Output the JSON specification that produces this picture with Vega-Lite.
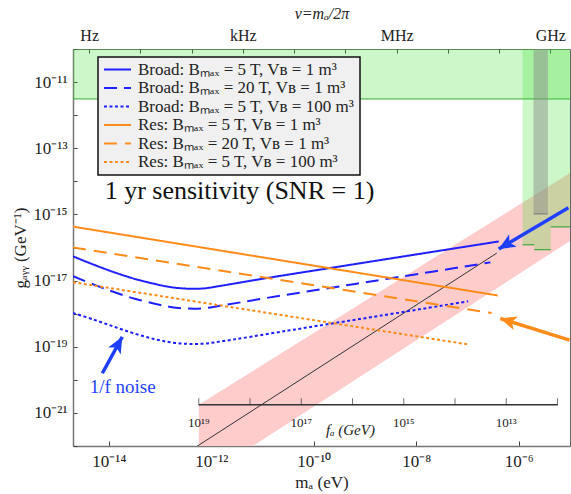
{
  "$schema": "https://vega.github.io/schema/vega-lite/v6.json",
  "width": 497,
  "height": 397,
  "autosize": {"type": "none"},
  "padding": {"left": 73, "top": 49, "right": 1, "bottom": 48},
  "background": "white",
  "config": {
    "view": {"stroke": "#666", "strokeWidth": 1},
    "font": "Liberation Serif",
    "axis": {
      "labelFont": "Liberation Serif",
      "titleFont": "Liberation Serif",
      "labelFontSize": 17,
      "titleFontSize": 17,
      "titleFontWeight": "normal",
      "labelColor": "#222",
      "titleColor": "#222",
      "tickColor": "#444",
      "domainColor": "#777",
      "domainWidth": 1.5,
      "grid": false,
      "labelFlush": false,
      "labelOverlap": false
    },
    "legend": {
      "labelFont": "Liberation Serif",
      "labelFontSize": 17,
      "labelColor": "#222",
      "labelLimit": 500,
      "fillColor": "#f0f0f0",
      "strokeColor": "#111",
      "strokeWidth": 1.5,
      "padding": 5,
      "symbolType": "stroke",
      "symbolStrokeWidth": 2,
      "symbolSize": 729,
      "clipHeight": 15,
      "rowPadding": 0.5,
      "labelOffset": 6
    }
  },
  "datasets": {
    "curves": [
      {"series": "Broad: Bₘₐₓ = 5 T, Vʙ = 1 m³", "m": 2.0e-15, "g": 5.40e-17},
      {"series": "Broad: Bₘₐₓ = 5 T, Vʙ = 1 m³", "m": 5.14e-15, "g": 3.00e-17},
      {"series": "Broad: Bₘₐₓ = 5 T, Vʙ = 1 m³", "m": 1.256e-14, "g": 1.80e-17},
      {"series": "Broad: Bₘₐₓ = 5 T, Vʙ = 1 m³", "m": 3.07e-14, "g": 1.148e-17},
      {"series": "Broad: Bₘₐₓ = 5 T, Vʙ = 1 m³", "m": 7.52e-14, "g": 8.07e-18},
      {"series": "Broad: Bₘₐₓ = 5 T, Vʙ = 1 m³", "m": 1.585e-13, "g": 6.38e-18},
      {"series": "Broad: Bₘₐₓ = 5 T, Vʙ = 1 m³", "m": 3.34e-13, "g": 5.71e-18},
      {"series": "Broad: Bₘₐₓ = 5 T, Vʙ = 1 m³", "m": 7.03e-13, "g": 5.79e-18},
      {"series": "Broad: Bₘₐₓ = 5 T, Vʙ = 1 m³", "m": 1.483e-12, "g": 6.89e-18},
      {"series": "Broad: Bₘₐₓ = 5 T, Vʙ = 1 m³", "m": 1.197e-11, "g": 1.189e-17},
      {"series": "Broad: Bₘₐₓ = 5 T, Vʙ = 1 m³", "m": 2.35e-10, "g": 2.47e-17},
      {"series": "Broad: Bₘₐₓ = 5 T, Vʙ = 1 m³", "m": 2.96e-9, "g": 4.59e-17},
      {"series": "Broad: Bₘₐₓ = 5 T, Vʙ = 1 m³", "m": 4.06e-7, "g": 1.524e-16},

      {"series": "Broad: Bₘₐₓ = 20 T, Vʙ = 1 m³", "m": 2.0e-15, "g": 1.355e-17},
      {"series": "Broad: Bₘₐₓ = 20 T, Vʙ = 1 m³", "m": 5.14e-15, "g": 7.53e-18},
      {"series": "Broad: Bₘₐₓ = 20 T, Vʙ = 1 m³", "m": 1.256e-14, "g": 4.52e-18},
      {"series": "Broad: Bₘₐₓ = 20 T, Vʙ = 1 m³", "m": 3.07e-14, "g": 2.88e-18},
      {"series": "Broad: Bₘₐₓ = 20 T, Vʙ = 1 m³", "m": 7.52e-14, "g": 2.03e-18},
      {"series": "Broad: Bₘₐₓ = 20 T, Vʙ = 1 m³", "m": 1.585e-13, "g": 1.60e-18},
      {"series": "Broad: Bₘₐₓ = 20 T, Vʙ = 1 m³", "m": 3.34e-13, "g": 1.433e-18},
      {"series": "Broad: Bₘₐₓ = 20 T, Vʙ = 1 m³", "m": 7.03e-13, "g": 1.453e-18},
      {"series": "Broad: Bₘₐₓ = 20 T, Vʙ = 1 m³", "m": 1.483e-12, "g": 1.729e-18},
      {"series": "Broad: Bₘₐₓ = 20 T, Vʙ = 1 m³", "m": 1.197e-11, "g": 2.98e-18},
      {"series": "Broad: Bₘₐₓ = 20 T, Vʙ = 1 m³", "m": 2.35e-10, "g": 6.20e-18},
      {"series": "Broad: Bₘₐₓ = 20 T, Vʙ = 1 m³", "m": 2.96e-9, "g": 1.152e-17},
      {"series": "Broad: Bₘₐₓ = 20 T, Vʙ = 1 m³", "m": 2.80e-7, "g": 3.55e-17},

      {"series": "Broad: Bₘₐₓ = 5 T, Vʙ = 100 m³", "m": 2.0e-15, "g": 1.05e-18},
      {"series": "Broad: Bₘₐₓ = 5 T, Vʙ = 100 m³", "m": 5.14e-15, "g": 6.56e-19},
      {"series": "Broad: Bₘₐₓ = 5 T, Vʙ = 100 m³", "m": 1.256e-14, "g": 4.05e-19},
      {"series": "Broad: Bₘₐₓ = 5 T, Vʙ = 100 m³", "m": 3.07e-14, "g": 2.55e-19},
      {"series": "Broad: Bₘₐₓ = 5 T, Vʙ = 100 m³", "m": 7.52e-14, "g": 1.726e-19},
      {"series": "Broad: Bₘₐₓ = 5 T, Vʙ = 100 m³", "m": 1.585e-13, "g": 1.365e-19},
      {"series": "Broad: Bₘₐₓ = 5 T, Vʙ = 100 m³", "m": 3.34e-13, "g": 1.222e-19},
      {"series": "Broad: Bₘₐₓ = 5 T, Vʙ = 100 m³", "m": 7.03e-13, "g": 1.239e-19},
      {"series": "Broad: Bₘₐₓ = 5 T, Vʙ = 100 m³", "m": 1.483e-12, "g": 1.432e-19},
      {"series": "Broad: Bₘₐₓ = 5 T, Vʙ = 100 m³", "m": 3.16e-11, "g": 3.08e-19},
      {"series": "Broad: Bₘₐₓ = 5 T, Vʙ = 100 m³", "m": 1.0e-9, "g": 7.30e-19},
      {"series": "Broad: Bₘₐₓ = 5 T, Vʙ = 100 m³", "m": 1.028e-7, "g": 2.36e-18},

      {"series": "Res: Bₘₐₓ = 5 T, Vʙ = 1 m³", "m": 2.0e-15, "g": 4.27e-16},
      {"series": "Res: Bₘₐₓ = 5 T, Vʙ = 1 m³", "m": 3.89e-7, "g": 3.55e-18},

      {"series": "Res: Bₘₐₓ = 20 T, Vʙ = 1 m³", "m": 2.0e-15, "g": 1.0e-16},
      {"series": "Res: Bₘₐₓ = 20 T, Vʙ = 1 m³", "m": 2.95e-7, "g": 1.047e-18},

      {"series": "Res: Bₘₐₓ = 5 T, Vʙ = 100 m³", "m": 2.0e-15, "g": 8.91e-18},
      {"series": "Res: Bₘₐₓ = 5 T, Vʙ = 100 m³", "m": 1.023e-7, "g": 1.175e-19}
    ],
    "qcdLine": [
      {"m": 5.37e-13, "g": 1e-22},
      {"m": 3.72e-7, "g": 6.76e-17}
    ],
    "qcdBand": [
      {"m": 5.7e-13, "g": 1e-22, "g2": 1.78e-21},
      {"m": 6.46e-12, "g": 1e-22, "g2": 1.86e-20},
      {"m": 1e-5, "g": 1.58e-16, "g2": 1.78e-14}
    ],
    "starBound": [
      {"m": 2e-15, "m2": 1e-5, "g": 3.09e-12, "g2": 1e-10}
    ],
    "haloscopes": [
      {"m": 1.186e-6, "m2": 2.0e-6, "g": 1.21e-16, "g2": 1e-10},
      {"m": 2.0e-6, "m2": 4.2e-6, "g": 8.6e-17, "g2": 1e-10},
      {"m": 4.2e-6, "m2": 1e-5, "g": 4.2e-16, "g2": 1e-10}
    ],
    "grayBar": [
      {"m": 1.94e-6, "m2": 3.7e-6, "g": 1.035e-15, "g2": 1e-10}
    ],
    "arrows": [
      {"arrow": "broad", "m": 9.3e-6, "g": 1.58e-15},
      {"arrow": "broad", "m": 4.07e-7, "g": 9.0e-17},
      {"arrow": "res", "m": 9.8e-6, "g": 1.58e-19},
      {"arrow": "res", "m": 4.37e-7, "g": 7.13e-19},
      {"arrow": "noise", "m": 7.48e-15, "g": 1.58e-20},
      {"arrow": "noise", "m": 1.83e-14, "g": 1.995e-19}
    ],
    "arrowTips": [
      {"arrow": "broad", "m": 4.07e-7, "g": 9.0e-17},
      {"arrow": "res", "m": 4.37e-7, "g": 7.13e-19},
      {"arrow": "noise", "m": 1.83e-14, "g": 1.995e-19}
    ],
    "faAxis": [
      {"fa": 1e19, "m": 5.7e-13, "m2": 5.7e-6, "g": 1.78e-21}
    ],
    "faTicks": [
      {"fa": 1e19, "m": 5.7e-13, "g": 1.78e-21},
      {"fa": 1e18, "m": 5.7e-12, "g": 1.78e-21},
      {"fa": 1e17, "m": 5.7e-11, "g": 1.78e-21},
      {"fa": 1e16, "m": 5.7e-10, "g": 1.78e-21},
      {"fa": 1e15, "m": 5.7e-9, "g": 1.78e-21},
      {"fa": 1e14, "m": 5.7e-8, "g": 1.78e-21},
      {"fa": 1e13, "m": 5.7e-7, "g": 1.78e-21},
      {"fa": 1e12, "m": 5.7e-6, "g": 1.78e-21}
    ],
    "faLabels": [
      {"label": "10¹⁹", "m": 5.7e-13, "g": 4.9e-22},
      {"label": "10¹⁷", "m": 5.7e-11, "g": 4.9e-22},
      {"label": "10¹⁵", "m": 5.7e-9, "g": 4.9e-22},
      {"label": "10¹³", "m": 5.7e-7, "g": 4.9e-22}
    ]
  },
  "resolve": {"axis": {"x": "independent"}},
  "encoding": {
    "x": {"field": "m", "type": "quantitative", "scale": {"type": "log", "domain": [2e-15, 1e-5]}, "axis": null},
    "y": {
      "field": "g",
      "type": "quantitative",
      "scale": {"type": "log", "domain": [1e-22, 1e-10]},
      "axis": {
        "title": "gₐᵧᵧ (GeV⁻¹)",
        "titlePadding": 3,
        "values": [1e-22, 1e-21, 1e-20, 1e-19, 1e-18, 1e-17, 1e-16, 1e-15, 1e-14, 1e-13, 1e-12, 1e-11, 1e-10],
        "tickSize": -4,
        "labelPadding": 10,
        "labelExpr": "round(log(datum.value)/LN10) % 2 == 0 ? '' : '10⁻' + (floor(abs(round(log(datum.value)/LN10))/10) > 0 ? substring('⁰¹²³⁴⁵⁶⁷⁸⁹', floor(abs(round(log(datum.value)/LN10))/10), floor(abs(round(log(datum.value)/LN10))/10) + 1) : '') + substring('⁰¹²³⁴⁵⁶⁷⁸⁹', abs(round(log(datum.value)/LN10)) % 10, abs(round(log(datum.value)/LN10)) % 10 + 1)"
      }
    }
  },
  "layer": [
    {
      "data": {"name": "qcdBand"},
      "mark": {"type": "area", "color": "#ffcccc", "clip": true},
      "encoding": {"y2": {"field": "g2"}}
    },
    {
      "data": {"name": "starBound"},
      "mark": {"type": "rect", "color": "#32e128", "opacity": 0.25, "clip": true},
      "encoding": {
        "x": {
          "field": "m",
          "type": "quantitative",
          "scale": {"type": "log", "domain": [2e-15, 1e-5]},
          "axis": {
            "orient": "top",
            "title": "ν=mₐ/2π",
            "titleFontStyle": "italic",
            "titleFontSize": 16,
            "labelFontSize": 16,
            "titlePadding": 6,
            "values": [4.1357e-15, 4.1357e-14, 4.1357e-13, 4.1357e-12, 4.1357e-11, 4.1357e-10, 4.1357e-9, 4.1357e-8, 4.1357e-7, 4.1357e-6],
            "tickSize": -4,
            "labelPadding": 10,
            "domain": false,
            "labelExpr": "round(log(datum.value/4.1357e-15)/LN10) == 0 ? 'Hz' : round(log(datum.value/4.1357e-15)/LN10) == 3 ? 'kHz' : round(log(datum.value/4.1357e-15)/LN10) == 6 ? 'MHz' : round(log(datum.value/4.1357e-15)/LN10) == 9 ? 'GHz' : ''"
          }
        },
        "x2": {"field": "m2"},
        "y2": {"field": "g2"}
      }
    },
    {
      "data": {"name": "starBound"},
      "mark": {"type": "rule", "color": "#3aa83a", "strokeWidth": 1, "clip": true},
      "encoding": {"x2": {"field": "m2"}}
    },
    {
      "data": {"name": "haloscopes"},
      "mark": {"type": "rect", "color": "#32e128", "opacity": 0.25, "clip": true},
      "encoding": {"x2": {"field": "m2"}, "y2": {"field": "g2"}}
    },
    {
      "data": {"name": "haloscopes"},
      "mark": {"type": "rule", "color": "#3aa83a", "strokeWidth": 1.2, "clip": true},
      "encoding": {"x2": {"field": "m2"}}
    },
    {
      "data": {"name": "grayBar"},
      "mark": {"type": "rect", "color": "#888888", "opacity": 0.45, "clip": true},
      "encoding": {"x2": {"field": "m2"}, "y2": {"field": "g2"}}
    },
    {
      "data": {"name": "grayBar"},
      "mark": {"type": "rule", "color": "#777777", "strokeWidth": 1, "clip": true},
      "encoding": {"x2": {"field": "m2"}}
    },
    {
      "data": {"name": "qcdLine"},
      "mark": {"type": "line", "color": "#333333", "strokeWidth": 1, "clip": true},
      "encoding": {}
    },
    {
      "data": {"name": "curves"},
      "mark": {"type": "line", "strokeWidth": 2, "interpolate": "catmull-rom", "clip": true},
      "encoding": {
        "x": {
          "field": "m",
          "type": "quantitative",
          "scale": {"type": "log", "domain": [2e-15, 1e-5]},
          "axis": {
            "title": "mₐ (eV)",
            "titlePadding": 5,
            "values": [1e-14, 1e-12, 1e-10, 1e-8, 1e-6],
            "tickSize": -5,
            "labelPadding": 12,
            "labelExpr": "'10⁻' + (floor(abs(round(log(datum.value)/LN10))/10) > 0 ? substring('⁰¹²³⁴⁵⁶⁷⁸⁹', floor(abs(round(log(datum.value)/LN10))/10), floor(abs(round(log(datum.value)/LN10))/10) + 1) : '') + substring('⁰¹²³⁴⁵⁶⁷⁸⁹', abs(round(log(datum.value)/LN10)) % 10, abs(round(log(datum.value)/LN10)) % 10 + 1)"
          }
        },
        "color": {
          "field": "series",
          "type": "nominal",
          "scale": {
            "domain": ["Broad: Bₘₐₓ = 5 T, Vʙ = 1 m³", "Broad: Bₘₐₓ = 20 T, Vʙ = 1 m³", "Broad: Bₘₐₓ = 5 T, Vʙ = 100 m³", "Res: Bₘₐₓ = 5 T, Vʙ = 1 m³", "Res: Bₘₐₓ = 20 T, Vʙ = 1 m³", "Res: Bₘₐₓ = 5 T, Vʙ = 100 m³"],
            "range": ["#1f1fff", "#1f1fff", "#1f1fff", "#ff8c1a", "#ff8c1a", "#ff8c1a"]
          },
          "legend": {"orient": "none", "legendX": 25, "legendY": 8, "title": null}
        },
        "strokeDash": {
          "field": "series",
          "type": "nominal",
          "scale": {
            "domain": ["Broad: Bₘₐₓ = 5 T, Vʙ = 1 m³", "Broad: Bₘₐₓ = 20 T, Vʙ = 1 m³", "Broad: Bₘₐₓ = 5 T, Vʙ = 100 m³", "Res: Bₘₐₓ = 5 T, Vʙ = 1 m³", "Res: Bₘₐₓ = 20 T, Vʙ = 1 m³", "Res: Bₘₐₓ = 5 T, Vʙ = 100 m³"],
            "range": [[1, 0], [13, 7], [3, 2.5], [1, 0], [13, 8], [3, 2.5]]
          },
          "legend": {"orient": "none", "legendX": 25, "legendY": 8, "title": null}
        }
      }
    },
    {
      "data": {"name": "arrows"},
      "transform": [{"filter": "datum.arrow != 'res'"}],
      "mark": {"type": "line", "color": "#1f3fff", "strokeWidth": 3.5, "clip": true},
      "encoding": {"detail": {"field": "arrow"}}
    },
    {
      "data": {"name": "arrows"},
      "transform": [{"filter": "datum.arrow == 'res'"}],
      "mark": {"type": "line", "color": "#ff8c1a", "strokeWidth": 3.5, "clip": true},
      "encoding": {}
    },
    {
      "data": {"name": "arrowTips"},
      "transform": [{"filter": "datum.arrow == 'broad'"}],
      "mark": {"type": "point", "filled": true, "opacity": 1, "color": "#1f3fff", "size": 340, "angle": 239, "shape": "M0,0L0.8,1.8L0,1.35L-0.8,1.8Z"}
    },
    {
      "data": {"name": "arrowTips"},
      "transform": [{"filter": "datum.arrow == 'res'"}],
      "mark": {"type": "point", "filled": true, "opacity": 1, "color": "#ff8c1a", "size": 320, "angle": 287, "shape": "M0,0L0.8,1.8L0,1.35L-0.8,1.8Z"}
    },
    {
      "data": {"name": "arrowTips"},
      "transform": [{"filter": "datum.arrow == 'noise'"}],
      "mark": {"type": "point", "filled": true, "opacity": 1, "color": "#1f3fff", "size": 320, "angle": 29, "shape": "M0,0L0.8,1.8L0,1.35L-0.8,1.8Z"}
    },
    {
      "data": {"name": "faAxis"},
      "mark": {"type": "rule", "color": "#333333", "strokeWidth": 1.5},
      "encoding": {"x2": {"field": "m2"}}
    },
    {
      "data": {"name": "faTicks"},
      "mark": {"type": "tick", "orient": "vertical", "color": "#333333", "thickness": 1, "size": 7, "yOffset": -3}
    },
    {
      "data": {"name": "faLabels"},
      "mark": {"type": "text", "font": "Liberation Serif", "fontSize": 13, "color": "#222"},
      "encoding": {"text": {"field": "label"}}
    },
    {
      "data": {"values": [{"label": "fₐ (GeV)", "m": 5.19e-10, "g": 2.95e-22}]},
      "mark": {"type": "text", "font": "Liberation Serif", "fontSize": 15, "fontStyle": "italic", "color": "#222"},
      "encoding": {"text": {"field": "label"}}
    },
    {
      "data": {"values": [{"label": "1 yr sensitivity (SNR = 1)", "m": 3.55e-12, "g": 5.1e-15}]},
      "mark": {"type": "text", "font": "Liberation Serif", "fontSize": 26, "color": "#111"},
      "encoding": {"text": {"field": "label"}}
    },
    {
      "data": {"values": [{"label": "1/f noise", "m": 1.86e-14, "g": 6.2e-21}]},
      "mark": {"type": "text", "font": "Liberation Serif", "fontSize": 19, "color": "#1f3fff"},
      "encoding": {"text": {"field": "label"}}
    }
  ]
}
